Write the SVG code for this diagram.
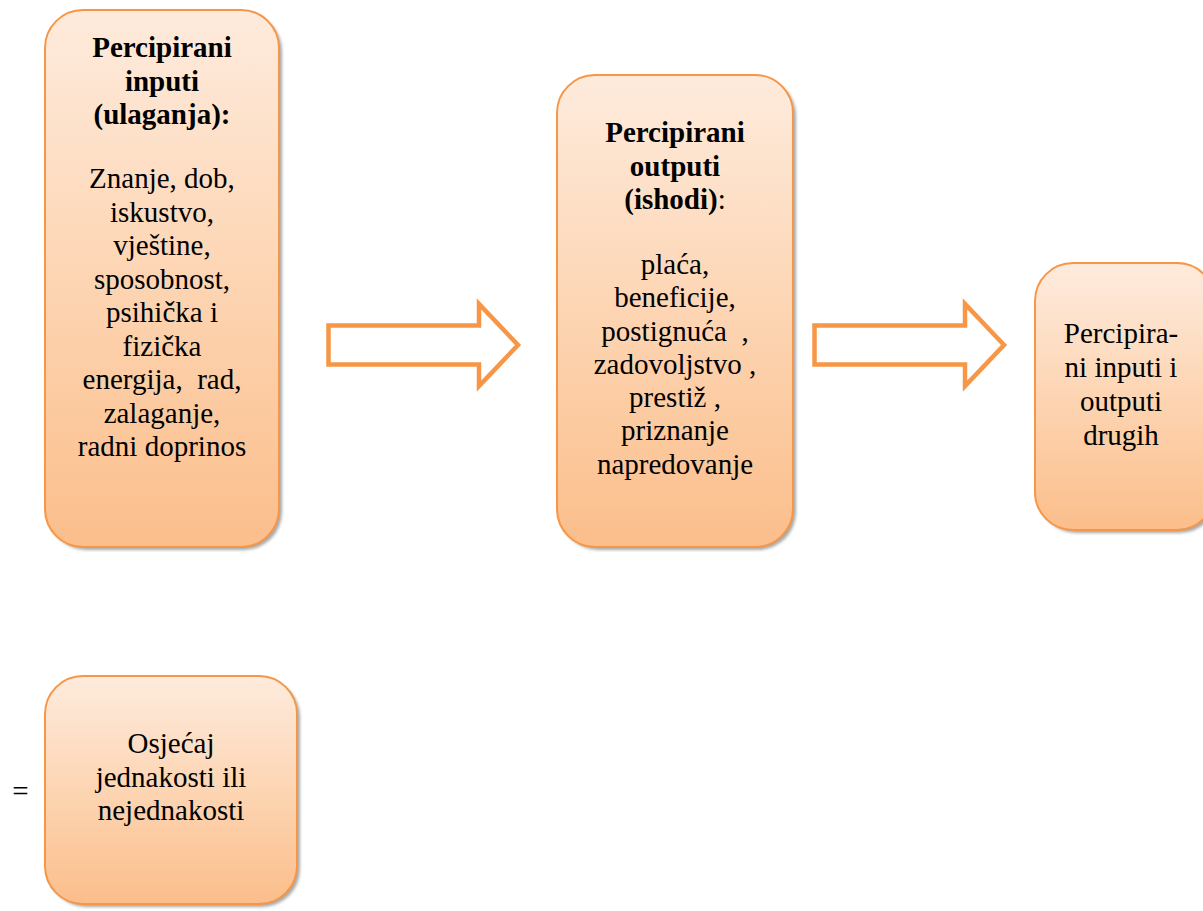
<svg xmlns="http://www.w3.org/2000/svg" width="1203" height="911" viewBox="0 0 1203 911">
<defs>
<linearGradient id="fillg" x1="0" y1="0" x2="0" y2="1">
<stop offset="0" stop-color="#FEEBDD"/>
<stop offset="0.5" stop-color="#FDD5B3"/>
<stop offset="1" stop-color="#FBBE8B"/>
</linearGradient>
<filter id="sh" x="-10%" y="-10%" width="120%" height="120%">
<feGaussianBlur stdDeviation="1.5"/>
</filter>
</defs>
<style>
.box{fill:url(#fillg);stroke:#F79646;stroke-width:2}
.shadow{fill:#8c8c8c;opacity:0.75;filter:url(#sh)}
.arrow{fill:#ffffff;stroke:#F79646;stroke-width:4.5;stroke-linejoin:miter}
.t{font-family:"Liberation Serif","Times New Roman",serif;font-size:29px;fill:#000;text-anchor:middle}
.b{font-weight:bold}
</style>
<rect width="1203" height="911" fill="#ffffff"/>

<g id="connectors">
<polygon class="arrow" points="328.5,325.5 479,325.5 479,304 518,345 479,386 479,364.5 328.5,364.5"/>
<polygon class="arrow" points="814.5,325.5 965,325.5 965,304 1004,345 965,386 965,364.5 814.5,364.5"/>
</g>

<g id="node-inputs">
<rect class="shadow" x="48" y="13" width="234" height="537" rx="38"/>
<rect class="box" x="45" y="10" width="234" height="537" rx="38"/>
<text class="t b" x="162" y="57">Percipirani</text>
<text class="t b" x="162" y="90.5">inputi</text>
<text class="t b" x="162" y="124">(ulaganja):</text>
<text class="t" x="162" y="188">Znanje, dob,</text>
<text class="t" x="162" y="221.5">iskustvo,</text>
<text class="t" x="162" y="255">vještine,</text>
<text class="t" x="162" y="288.5">sposobnost,</text>
<text class="t" x="162" y="322">psihička i</text>
<text class="t" x="162" y="355.5">fizička</text>
<text class="t" x="162" y="389" xml:space="preserve">energija,  rad,</text>
<text class="t" x="162" y="422.5">zalaganje,</text>
<text class="t" x="162" y="456">radni doprinos</text>
</g>

<g id="node-outputs">
<rect class="shadow" x="560" y="78" width="236" height="472" rx="38"/>
<rect class="box" x="557" y="75" width="236" height="472" rx="38"/>
<text class="t b" x="675" y="142">Percipirani</text>
<text class="t b" x="675" y="175.5">outputi</text>
<text class="t" x="675" y="209"><tspan font-weight="bold">(ishodi)</tspan>:</text>
<text class="t" x="675" y="274">plaća,</text>
<text class="t" x="675" y="307">beneficije,</text>
<text class="t" x="675" y="340.5" xml:space="preserve">postignuća  ,</text>
<text class="t" x="675" y="374">zadovoljstvo ,</text>
<text class="t" x="675" y="407">prestiž ,</text>
<text class="t" x="675" y="440">priznanje</text>
<text class="t" x="675" y="473.5">napredovanje</text>
</g>

<g id="node-others">
<rect class="shadow" x="1038" y="266" width="180" height="267" rx="38"/>
<rect class="box" x="1035" y="263" width="180" height="267" rx="38"/>
<text class="t" x="1121" y="343">Percipira-</text>
<text class="t" x="1121" y="377">ni inputi i</text>
<text class="t" x="1121" y="411">outputi</text>
<text class="t" x="1121" y="444.5">drugih</text>
</g>

<g id="node-equity">
<text class="t" x="20.5" y="801">=</text>
<rect class="shadow" x="48" y="679" width="252" height="228" rx="38"/>
<rect class="box" x="45" y="676" width="252" height="228" rx="38"/>
<text class="t" x="171" y="753">Osjećaj</text>
<text class="t" x="171" y="786.5">jednakosti ili</text>
<text class="t" x="171" y="820">nejednakosti</text>
</g>
</svg>
